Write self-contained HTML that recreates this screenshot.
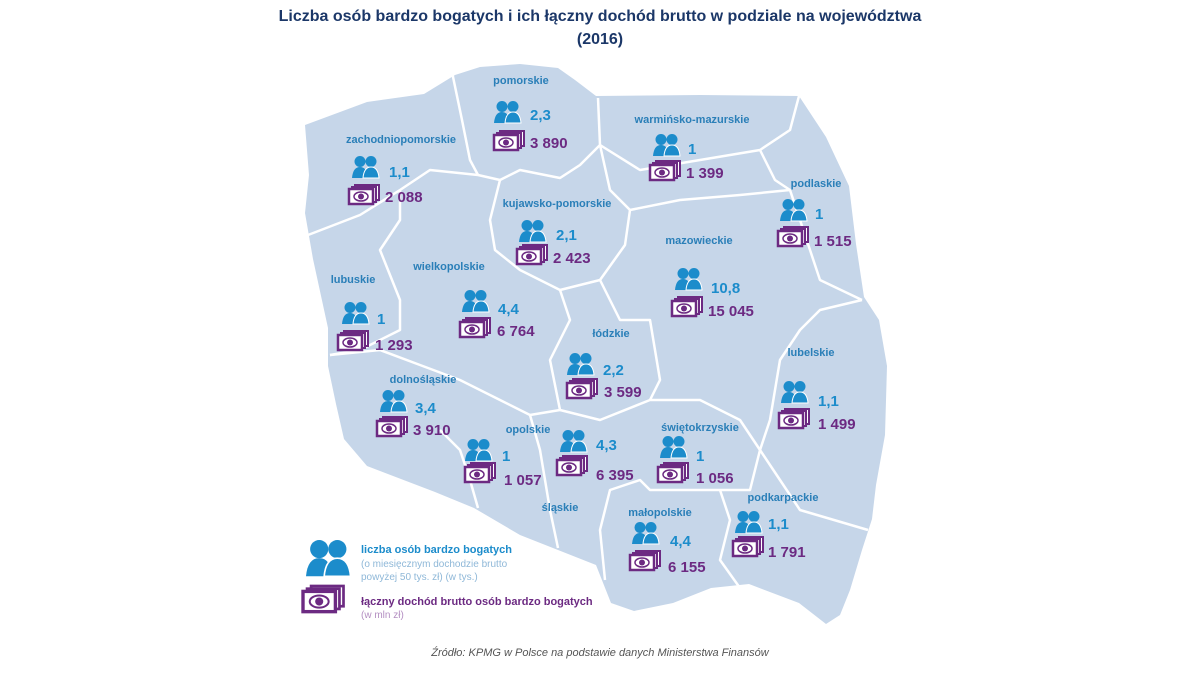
<!DOCTYPE html>
<html><head><meta charset="utf-8"><style>
html,body{margin:0;padding:0;background:#fff;}
svg{display:block;font-family:"Liberation Sans",sans-serif;}
.lb{font-size:11px;font-weight:bold;fill:#2a7fb8;text-anchor:middle;}
.pv{font-size:15px;font-weight:bold;fill:#1c8ccb;}
.mv{font-size:15px;font-weight:bold;fill:#6c2a82;}
</style></head><body>
<svg width="1200" height="675" viewBox="0 0 1200 675">
<defs>
<g id="pp">
<circle cx="8" cy="5.5" r="5.5" fill="#1c8ccb"/>
<circle cx="19" cy="5.5" r="5.5" fill="#1c8ccb"/>
<path d="M0 22 Q1 11 8 11 Q15 11 16 22Z" fill="#1c8ccb"/>
<path d="M11 22 Q12 11 19 11 Q26 11 27 22Z" fill="#1c8ccb" stroke="#fff" stroke-width="1"/>
</g>
<g id="mm">
<rect x="6" y="0" width="24" height="15" fill="#fff" stroke="#6c2a82" stroke-width="2"/>
<rect x="3" y="2" width="24" height="15" fill="#fff" stroke="#6c2a82" stroke-width="2"/>
<rect x="0" y="4" width="24" height="15" fill="#fff" stroke="#6c2a82" stroke-width="2.5"/>
<ellipse cx="12" cy="11.5" rx="7" ry="4.5" fill="#fff" stroke="#6c2a82" stroke-width="1.5"/>
<circle cx="12" cy="11.5" r="3" fill="#6c2a82"/>
</g>
</defs>
<text x="600" y="21" text-anchor="middle" font-size="16" font-weight="bold" fill="#1b3768">Liczba osób bardzo bogatych i ich łączny dochód brutto w podziale na województwa</text>
<text x="600" y="44" text-anchor="middle" font-size="16" font-weight="bold" fill="#1b3768">(2016)</text>

<path d="M455,75 L480,67 L520,64 L558,68 L575,80 L596,96 L700,95 L799,96 L826,137 L849,186 L856,244 L864,297 L879,320 L887,366 L885,435 L876,485 L872,519 L862,550 L850,590 L840,615 L826,624 L799,603 L749,584 L711,588 L673,603 L634,611 L611,603 L596,565 L558,550 L520,535 L474,508 L435,492 L367,466 L344,439 L336,404 L328,366 L328,328 L313,259 L305,213 L309,175 L305,125 L367,102 L424,94 Z" fill="#c6d6e9"/>
<g fill="none" stroke="#fff" stroke-width="2.5" stroke-linejoin="round">
<path d="M452,72 L462,120 L470,160 L478,175"/>
<path d="M308,235 L360,215 L400,190 L430,170 L478,175"/>
<path d="M478,175 L500,180 L520,170 L560,178 L580,165 L600,145 L598,98"/>
<path d="M600,145 L640,170 L700,160 L760,150 L790,130 L799,96"/>
<path d="M760,150 L775,180 L790,190"/>
<path d="M500,180 L490,220 L495,250 L520,270 L560,290 L600,280 L625,245 L630,210 L610,190 L600,145"/>
<path d="M630,210 L680,200 L740,195 L790,190 L800,220 L810,250 L820,280 L862,300"/>
<path d="M862,300 L820,310 L800,330 L780,360 L770,420 L760,450"/>
<path d="M600,280 L610,300 L620,320 L650,320 L660,380 L650,400"/>
<path d="M560,290 L570,320 L550,360 L560,410 L530,415"/>
<path d="M400,190 L400,220 L380,250 L400,300 L400,330 L360,350 L330,355"/>
<path d="M330,355 L380,350 L420,365 L460,380 L500,400 L530,415"/>
<path d="M440,430 L460,450 L470,480 L478,508"/>
<path d="M530,415 L540,450 L545,480 L550,510 L558,548"/>
<path d="M560,410 L600,420 L650,400 L700,400 L740,420 L760,450 L750,490 L700,490 L650,490 L640,480 L610,490 L600,530 L605,580"/>
<path d="M720,490 L730,520 L720,560 L740,588"/>
<path d="M760,450 L780,480 L800,510 L868,530"/>
</g>

<text class="lb" x="521" y="84">pomorskie</text>
<use href="#pp" x="494" y="101"/><text class="pv" x="530" y="120">2,3</text>
<use href="#mm" x="494" y="131"/><text class="mv" x="530" y="148">3 890</text>

<text class="lb" x="401" y="143">zachodniopomorskie</text>
<use href="#pp" x="352" y="156"/><text class="pv" x="389" y="177">1,1</text>
<use href="#mm" x="349" y="185"/><text class="mv" x="385" y="202">2 088</text>

<text class="lb" x="692" y="123">warmińsko-mazurskie</text>
<use href="#pp" x="653" y="134"/><text class="pv" x="688" y="154">1</text>
<use href="#mm" x="650" y="161"/><text class="mv" x="686" y="178">1 399</text>

<text class="lb" x="816" y="187">podlaskie</text>
<use href="#pp" x="780" y="199"/><text class="pv" x="815" y="219">1</text>
<use href="#mm" x="778" y="227"/><text class="mv" x="814" y="246">1 515</text>

<text class="lb" x="557" y="207">kujawsko-pomorskie</text>
<use href="#pp" x="519" y="220"/><text class="pv" x="556" y="240">2,1</text>
<use href="#mm" x="517" y="245"/><text class="mv" x="553" y="263">2 423</text>

<text class="lb" x="699" y="244">mazowieckie</text>
<use href="#pp" x="675" y="268"/><text class="pv" x="711" y="293">10,8</text>
<use href="#mm" x="672" y="297"/><text class="mv" x="708" y="316">15 045</text>

<text class="lb" x="353" y="283">lubuskie</text>
<use href="#pp" x="342" y="302"/><text class="pv" x="377" y="324">1</text>
<use href="#mm" x="338" y="331"/><text class="mv" x="375" y="350">1 293</text>

<text class="lb" x="449" y="270">wielkopolskie</text>
<use href="#pp" x="462" y="290"/><text class="pv" x="498" y="314">4,4</text>
<use href="#mm" x="460" y="318"/><text class="mv" x="497" y="336">6 764</text>

<text class="lb" x="611" y="337">łódzkie</text>
<use href="#pp" x="567" y="353"/><text class="pv" x="603" y="375">2,2</text>
<use href="#mm" x="567" y="379"/><text class="mv" x="604" y="397">3 599</text>

<text class="lb" x="423" y="383">dolnośląskie</text>
<use href="#pp" x="380" y="390"/><text class="pv" x="415" y="413">3,4</text>
<use href="#mm" x="377" y="417"/><text class="mv" x="413" y="435">3 910</text>

<text class="lb" x="811" y="356">lubelskie</text>
<use href="#pp" x="781" y="381"/><text class="pv" x="818" y="406">1,1</text>
<use href="#mm" x="779" y="409"/><text class="mv" x="818" y="429">1 499</text>

<text class="lb" x="528" y="433">opolskie</text>
<use href="#pp" x="465" y="439"/><text class="pv" x="502" y="461">1</text>
<use href="#mm" x="465" y="463"/><text class="mv" x="504" y="485">1 057</text>

<use href="#pp" x="560" y="430"/><text class="pv" x="596" y="450">4,3</text>
<use href="#mm" x="557" y="456"/><text class="mv" x="596" y="480">6 395</text>
<text class="lb" x="560" y="511">śląskie</text>

<text class="lb" x="700" y="431">świętokrzyskie</text>
<use href="#pp" x="660" y="436"/><text class="pv" x="696" y="461">1</text>
<use href="#mm" x="658" y="463"/><text class="mv" x="696" y="483">1 056</text>

<text class="lb" x="660" y="516">małopolskie</text>
<use href="#pp" x="632" y="522"/><text class="pv" x="670" y="546">4,4</text>
<use href="#mm" x="630" y="551"/><text class="mv" x="668" y="572">6 155</text>

<text class="lb" x="783" y="501">podkarpackie</text>
<use href="#pp" x="735" y="511"/><text class="pv" x="768" y="529">1,1</text>
<use href="#mm" x="733" y="537"/><text class="mv" x="768" y="557">1 791</text>

<use href="#pp" transform="translate(306,540) scale(1.65)"/>
<text x="361" y="553" font-size="11" font-weight="bold" fill="#1c8ccb">liczba osób bardzo bogatych</text>
<text x="361" y="567" font-size="10" fill="#8fb8d8">(o miesięcznym dochodzie brutto</text>
<text x="361" y="580" font-size="10" fill="#8fb8d8">powyżej 50 tys. zł) (w tys.)</text>
<use href="#mm" transform="translate(303,586) scale(1.35)"/>
<text x="361" y="605" font-size="11" font-weight="bold" fill="#6c2a82">łączny dochód brutto osób bardzo bogatych</text>
<text x="361" y="618" font-size="10" fill="#b48fc2">(w mln zł)</text>

<text x="600" y="656" text-anchor="middle" font-size="11" font-style="italic" fill="#555">Źródło: KPMG w Polsce na podstawie danych Ministerstwa Finansów</text>
</svg>
</body></html>
